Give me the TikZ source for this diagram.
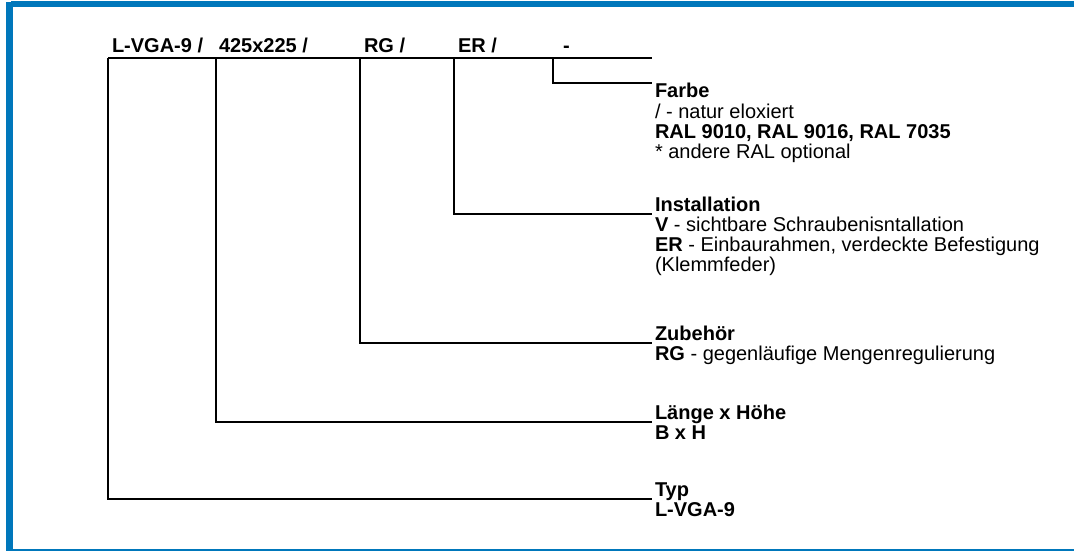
\documentclass[tikz,border=0pt]{standalone}
\usepackage{fontspec}
\setmainfont{Liberation Sans}
\usepackage{tikz}
\usetikzlibrary{positioning}
\definecolor{frameblue}{RGB}{0,119,187}

\begin{document}
\begin{tikzpicture}[x=1pt,y=-1pt,line width=2pt,node distance=20pt,
                    font=\fontsize{20}{20}\selectfont]
  \tikzstyle{every node}=[inner sep=0pt,anchor=base west]
  \tikzstyle{head}=[font=\fontsize{20}{20}\selectfont\bfseries]
  \tikzstyle{sub}=[anchor=base west]

  \useasboundingbox (0,0) rectangle (1074,551);
  % frame
  \fill[frameblue] (11,1) rectangle (1074,7);
  \fill[frameblue] (6,2) rectangle (13,551);
  \fill[frameblue] (13,549) rectangle (1074,551);

  % code
  \node[head] (hTyp)  at (111,53) {L-VGA-9 /};
  \node[head] (hSize) at (218,53) {425x225 /};
  \node[head] (hAcc)  at (363,53) {RG /};
  \node[head] (hInst) at (457,53) {ER /};
  \node[head] (hCol)  at (562,53) {-};

  % legend
  \node[head] (farbe) at (654,98) {Farbe};
  \node (farbe1) [below=of farbe.base west,sub] {/ - natur eloxiert};
  \node (farbe2) [below=of farbe1.base west,sub] {\textbf{RAL 9010, RAL 9016, RAL 7035}};
  \node (farbe3) [below=of farbe2.base west,sub] {* andere RAL optional};

  \node[head] (inst) at (654,211) {Installation};
  \node (inst1) [below=of inst.base west,sub] {\textbf{V} - sichtbare Schraubenisntallation};
  \node (inst2) [below=of inst1.base west,sub] {\textbf{ER} - Einbaurahmen, verdeckte Befestigung};
  \node (inst3) [below=of inst2.base west,sub] {(Klemmfeder)};

  \node[head] (zub) at (654,340) {Zubehör};
  \node (zub1) [below=of zub.base west,sub] {\textbf{RG} - gegenläufige Mengenregulierung};

  \node[head] (lange) at (654,419) {Länge x Höhe};
  \node[head] (lange1) [below=of lange.base west,sub] {B x H};

  \node[head] (typ) at (654,496) {Typ};
  \node[head] (typ1) [below=of typ.base west,sub] {L-VGA-9};

  \coordinate (tTyp)  at (108,58);
  \coordinate (tSize) at (216,58);
  \coordinate (tAcc)  at (360,58);
  \coordinate (tInst) at (454,58);
  \coordinate (tCol)  at (553,58);
  \coordinate (tEnd)  at (652,58);

  \coordinate (eCol)  at (652,83);
  \coordinate (eInst) at (652,214);
  \coordinate (eAcc)  at (652,343);
  \coordinate (eSize) at (652,422);
  \coordinate (eTyp)  at (652,499);

  \draw (tTyp) -- (tEnd);
  \draw (tCol) |- (eCol);
  \draw (tInst) |- (eInst);
  \draw (tAcc) |- (eAcc);
  \draw (tSize) |- (eSize);
  \draw (tTyp) |- (eTyp);
\end{tikzpicture}
\end{document}
